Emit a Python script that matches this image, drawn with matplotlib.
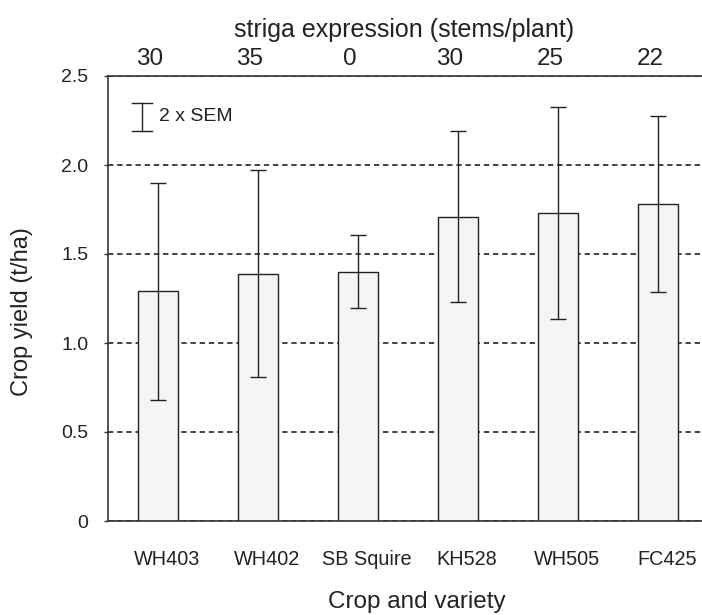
import matplotlib
matplotlib.use("Agg")
import matplotlib.pyplot as plt
import matplotlib.transforms as mtransforms
import numpy as np

plt.rcParams['font.family'] = ['Liberation Sans', 'DejaVu Sans']

varieties = ["WH403", "WH402", "SB Squire", "KH528", "WH505", "FC425"]
yield_t_ha = [1.29, 1.39, 1.40, 1.71, 1.73, 1.78]
two_sem = [0.61, 0.58, 0.205, 0.48, 0.595, 0.495]
striga = ["30", "35", "0", "30", "25", "22"]
y_ticks = [0, 0.5, 1.0, 1.5, 2.0, 2.5]
y_tick_labels = ["0", "0.5", "1.0", "1.5", "2.0", "2.5"]

W, H = 702, 615
fig = plt.figure(figsize=(W/100, H/100), dpi=100)
ax = fig.add_axes([108/W, (H-521)/H, 600/W, 445/H])

x = np.arange(len(varieties))
ax.set_axisbelow(True)
ax.yaxis.grid(True, linestyle=(0, (3.5, 2.5)), color='#111111', linewidth=1.1)
ax.bar(x, yield_t_ha, width=0.4, color='#f5f5f5', edgecolor='#222222',
       linewidth=1.0, zorder=2)
ax.errorbar(x, yield_t_ha, yerr=two_sem, fmt='none', ecolor='#222222',
            elinewidth=1.0, capsize=5.8, capthick=1.0, zorder=3)

ax.set_xlim(-0.5, 5.5)
ax.set_ylim(0, 2.5)
ax.set_yticks(y_ticks)
ax.set_yticklabels(y_tick_labels, fontsize=14, color='#222222')
ax.tick_params(axis='y', direction='out', length=3, width=1, pad=11, color='#333333')
ax.set_xticks(x)
ax.set_xticklabels(varieties, fontsize=14.3, color='#222222')
ax.tick_params(axis='x', length=0, pad=21)
off = mtransforms.ScaledTranslation(9/100, 0, fig.dpi_scale_trans)
for lbl in ax.get_xticklabels():
    lbl.set_transform(lbl.get_transform() + off)

for s in ['left', 'bottom', 'top']:
    ax.spines[s].set_color('#333333')
    ax.spines[s].set_linewidth(1.2)
ax.spines['right'].set_visible(False)

# axis titles
fig.text(417/W, (H-608)/H, "Crop and variety", fontsize=17.5, color='#222222',
         ha='center', va='baseline')
fig.text(22/W, (H-312)/H, "Crop yield (t/ha)", fontsize=17, color='#222222',
         ha='center', va='center', rotation=90)

# top axis: striga expression
top = ax.secondary_xaxis('top')
top.set_xticks(x)
top.set_xticklabels(striga, fontsize=17.5, color='#222222')
top.tick_params(length=0, pad=4.5)
top.spines['top'].set_visible(False)
off2 = mtransforms.ScaledTranslation(-8/100, 0, fig.dpi_scale_trans)
for lbl in top.get_xticklabels():
    lbl.set_transform(lbl.get_transform() + off2)
fig.text(404/W, (H-37)/H, "striga expression (stems/plant)", fontsize=18,
         color='#222222', ha='center', va='baseline')

# 2 x SEM key
kx, ky0, ky1 = 0.057, 0.876, 0.939
ax.plot([kx, kx], [ky0, ky1], transform=ax.transAxes, color='#222222', lw=1.0, clip_on=False)
for yy in (ky0, ky1):
    ax.plot([kx - 0.0167, kx + 0.0167], [yy, yy], transform=ax.transAxes,
            color='#222222', lw=1.0, clip_on=False)
ax.text(0.085, 0.908, "2 x SEM", transform=ax.transAxes, fontsize=14,
        va='center', ha='left', color='#222222')

fig.savefig("out.png", dpi=100)
